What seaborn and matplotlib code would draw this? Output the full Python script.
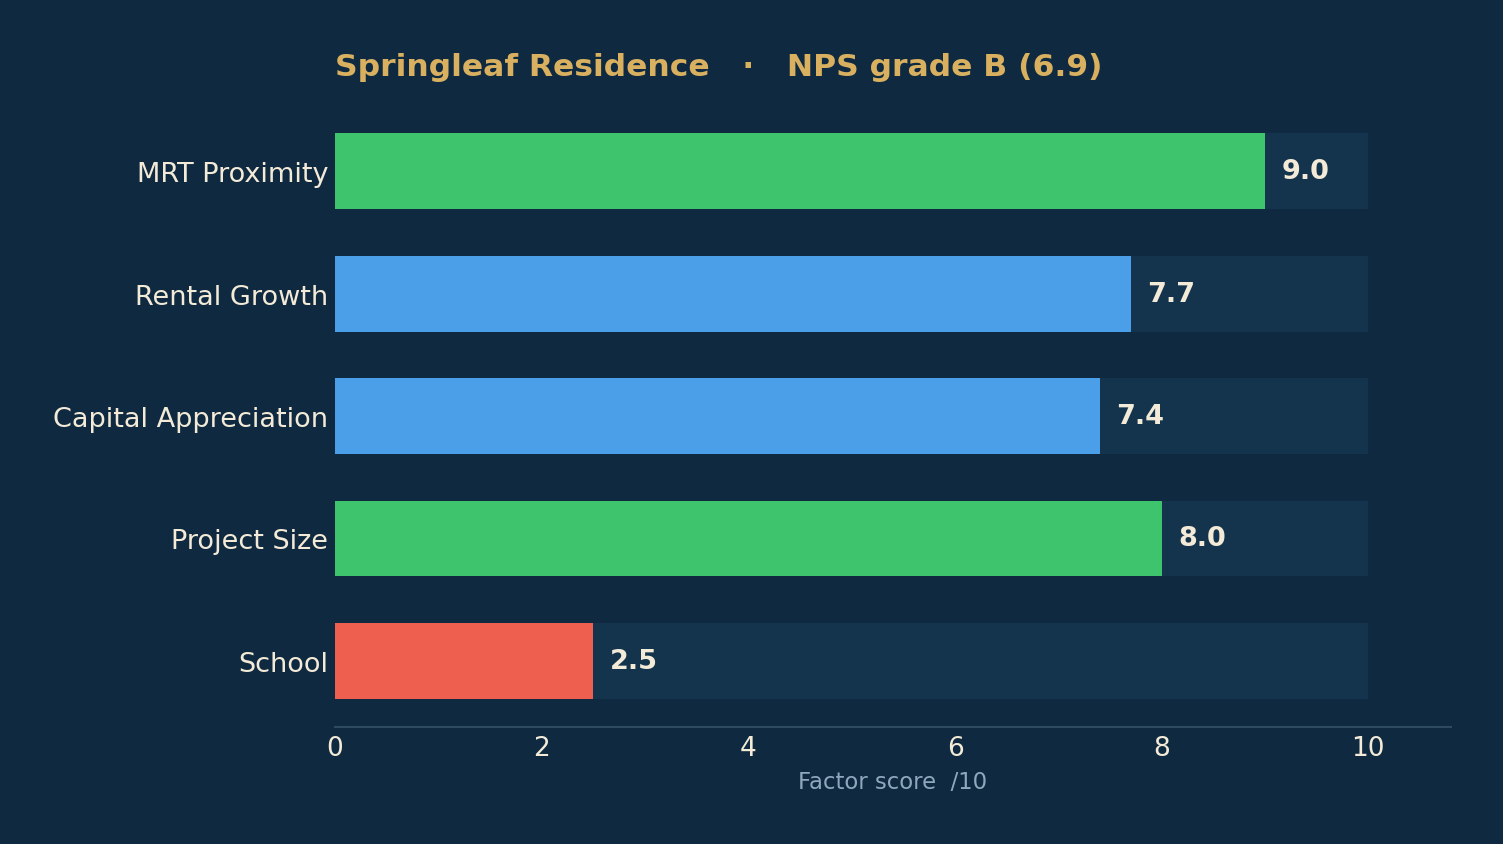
import pandas as pd
import seaborn as sns
import matplotlib.pyplot as plt

factors = ["MRT Proximity", "Rental Growth", "Capital Appreciation", "Project Size", "School"]
scores = [9.0, 7.7, 7.4, 8.0, 2.5]
bar_colors = ["#3ec46d", "#4a9fe8", "#4a9fe8", "#3ec46d", "#ee5f4f"]
max_score = 10
title = "Springleaf Residence   ·   NPS grade B (6.9)"

BG = "#0f2a40"
TRACK = "#14344d"
TEXT = "#f3ead8"
GOLD = "#d8b060"

df = pd.DataFrame({"factor": factors, "score": scores, "track": [max_score] * len(factors)})

sns.set_theme(style="white")
plt.rcParams["font.family"] = ["DejaVu Sans"]

fig = plt.figure(figsize=(15.03, 8.45), dpi=100, facecolor=BG)
ax = fig.add_axes([0.2229, 0.1384, 0.7425, 0.7361])
ax.set_facecolor(BG)

# track bars behind the scores
sns.barplot(data=df, x="track", y="factor", color=TRACK, width=0.62, ax=ax,
            saturation=1, edgecolor="none")
sns.barplot(data=df, x="score", y="factor", hue="factor", palette=bar_colors,
            width=0.62, ax=ax, saturation=1, edgecolor="none", legend=False)

for i, v in enumerate(scores):
    ax.text(v + 0.16, i, f"{v:.1f}", va="center", ha="left", color=TEXT,
            fontsize=19.5, fontweight="bold")

ax.set_xlim(0, 10.8)
ax.set_ylim(4.54, -0.54)
ax.set_xticks([0, 2, 4, 6, 8, 10])
ax.set_ylabel("")
ax.set_xlabel("Factor score  /10", color="#8fa8bc", fontsize=16.4, labelpad=6)
ax.tick_params(axis="both", length=0, colors=TEXT, labelsize=19)
ax.tick_params(axis="x", pad=6)
ax.tick_params(axis="y", pad=5, labelsize=19.5)

for side in ["top", "right", "left"]:
    ax.spines[side].set_visible(False)
ax.spines["bottom"].set_color("#2e4a60")
ax.spines["bottom"].set_linewidth(1.5)

fig.text(0.2229, 0.9207, title, color=GOLD, fontsize=22.6, fontweight="bold",
         ha="left", va="center")

plt.savefig("out.png", facecolor=BG, dpi=100)
